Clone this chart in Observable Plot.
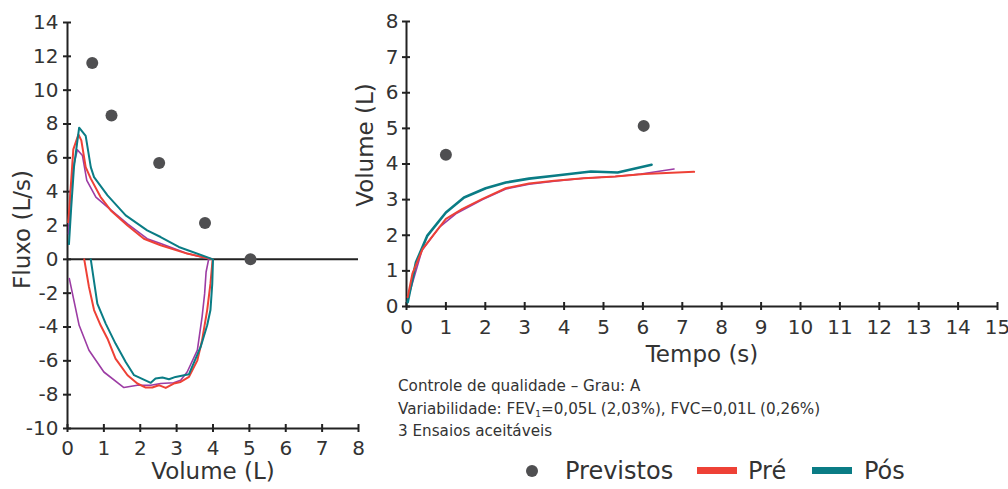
<!DOCTYPE html>
<html>
<head>
<meta charset="utf-8">
<script src="https://cdn.jsdelivr.net/npm/d3@7"></script>
<script src="https://cdn.jsdelivr.net/npm/@observablehq/plot@0.6"></script>
<style>
  body { margin: 0; background: #fff; }
  #wrap { position: relative; width: 1008px; height: 489px; overflow: hidden; font-family: "DejaVu Sans", sans-serif; color: #333; }
  #left { position: absolute; left: 0; top: 0; }
  #right { position: absolute; left: 340px; top: 0; }
  #notes { position: absolute; left: 398px; top: 375px; font-size: 15.2px; line-height: 22.5px; color: #333; white-space: nowrap; }
  #notes sub { font-size: 9px; vertical-align: -3px; line-height: 0; }
  .lg { position: absolute; }
  .lgtext { font-size: 24px; line-height: 28px; top: 457px; color: #333; }
</style>
</head>
<body>
<div id="wrap">
  <div id="left"></div>
  <div id="right"></div>
  <div id="notes"></div>
  <div id="legend"></div>
</div>
<script>
// ---------- Colors / labels ----------
const seriesNames = ["Previstos", "Pré", "Pós"];
const colPred = "#4f4f51", colPre = "#ee4136", colPos = "#0a7c85", colTrial = "#9c3ca4";

// ---------- Flow-volume (left) ----------
const flowTicks = [-10, -8, -6, -4, -2, 0, 2, 4, 6, 8, 10, 12, 14];
const volTicksL = [0, 1, 2, 3, 4, 5, 6, 7, 8];

const predFvVol  = [0.68, 1.21, 2.52, 3.78, 5.03];
const predFvFlow = [11.6, 8.5, 5.7, 2.15, 0];

// Pré: expiration then inspiration
const preFvVol  = [0.02, 0.04, 0.16, 0.30, 0.38, 0.50, 0.64, 0.91, 1.19, 1.65, 2.10, 2.56, 3.29, 3.99,
                   3.93, 3.84, 3.70, 3.57, 3.34, 3.11, 2.92, 2.70, 2.51, 2.33, 2.15, 1.92, 1.65, 1.32, 1.10, 0.91, 0.73, 0.59, 0.46];
const preFvFlow = [2.2, 2.7, 6.5, 7.38, 7.03, 5.45, 4.77, 3.68, 2.89, 2.0, 1.22, 0.83, 0.34, 0.0,
                   -1.44, -3.0, -4.78, -5.97, -6.95, -7.25, -7.34, -7.6, -7.44, -7.58, -7.58, -7.34, -6.85, -5.87, -4.69, -3.9, -3.0, -1.63, 0];

// Pós
const posFvVol  = [0.04, 0.10, 0.18, 0.32, 0.50, 0.64, 0.73, 1.10, 1.60, 2.19, 2.56, 3.06, 4.00,
                   3.98, 3.93, 3.84, 3.66, 3.34, 2.97, 2.79, 2.61, 2.42, 2.29, 1.83, 1.60, 1.32, 1.05, 0.82, 0.64];
const posFvFlow = [0.9, 3.0, 5.5, 7.78, 7.3, 5.45, 4.86, 3.78, 2.6, 1.71, 1.32, 0.73, 0.0,
                   -1.44, -3.0, -3.9, -5.18, -6.79, -6.95, -7.09, -6.99, -7.05, -7.3, -6.85, -6.07, -4.98, -3.8, -2.62, 0];

// third accepted trial
const trialFvVol  = [0.03, 0.08, 0.18, 0.27, 0.41, 0.53, 0.78, 1.10, 1.65, 2.19, 2.56, 3.29, 3.90,
                     3.88, 3.81, 3.77, 3.70, 3.57, 3.29, 3.11, 2.92, 2.56, 2.29, 1.92, 1.55, 1.00, 0.59, 0.32, 0.05];
const trialFvFlow = [1.5, 4.0, 5.65, 6.48, 6.14, 4.67, 3.68, 3.09, 2.1, 1.22, 0.93, 0.34, 0.02,
                     0, -0.75, -2.03, -3.4, -5.37, -6.66, -7.15, -7.3, -7.34, -7.44, -7.44, -7.58, -6.66, -5.37, -3.9, -1.14];

// ---------- Volume-time (right) ----------
const volTicksR = [0, 1, 2, 3, 4, 5, 6, 7, 8];
const timeTicks = [0, 1, 2, 3, 4, 5, 6, 7, 8, 9, 10, 11, 12, 13, 14, 15];

const predVtTime = [1.0, 6.02];
const predVtVol  = [4.26, 5.07];

const preVtTime = [0.03, 0.15, 0.41, 1.0, 1.42, 1.93, 2.52, 3.11, 3.75, 4.5, 5.3, 6.03, 7.3];
const preVtVol  = [0.26, 0.92, 1.62, 2.46, 2.74, 3.02, 3.32, 3.45, 3.53, 3.6, 3.65, 3.72, 3.78];

const posVtTime = [0.03, 0.24, 0.53, 1.0, 1.46, 2.01, 2.52, 3.11, 3.75, 4.68, 5.36, 6.22];
const posVtVol  = [0.12, 1.24, 1.99, 2.64, 3.06, 3.32, 3.48, 3.59, 3.67, 3.79, 3.76, 3.98];

const trialVtTime = [0.03, 0.39, 0.83, 1.25, 1.93, 2.52, 3.11, 3.75, 4.5, 5.3, 5.95, 6.79];
const trialVtVol  = [0.2, 1.57, 2.22, 2.6, 3.0, 3.3, 3.43, 3.52, 3.6, 3.65, 3.72, 3.86];

// ---------- Texts ----------
const axisTitles = { flow: "Fluxo (L/s)", volL: "Volume (L)", volR: "Volume (L)", time: "Tempo (s)" };
const noteLines = [
  "Controle de qualidade – Grau: A",
  "Variabilidade: FEV<sub>1</sub>=0,05L (2,03%), FVC=0,01L (0,26%)",
  "3 Ensaios aceitáveis"
];

const zip = (xs, ys) => xs.map((x, i) => ({x, y: ys[i]}));
const axisCol = "#222";
const style = {fontFamily: "DejaVu Sans", fontSize: "20px", color: "#333", background: "transparent", overflow: "visible"};
const titleOpts = {text: d => d, fontSize: 23, fill: "#333", textAnchor: "middle", lineAnchor: "middle"};

// ---------- Left plot ----------
const left = Plot.plot({
  width: 370, height: 489,
  marginLeft: 67, marginRight: 12, marginTop: 22, marginBottom: 61,
  x: {domain: [0, 8]},
  y: {domain: [-10, 14]},
  style,
  marks: [
    Plot.ruleY([0], {stroke: axisCol, strokeWidth: 2}),
    Plot.ruleY([-10], {stroke: axisCol, strokeWidth: 2}),
    Plot.ruleX([0], {stroke: axisCol, strokeWidth: 2}),
    Plot.axisY({ticks: flowTicks, tickSize: 4, tickPadding: 5, label: null, tickFormat: d => String(d), stroke: axisCol, strokeWidth: 2}),
    Plot.axisY({ticks: flowTicks, tickSize: 4, dx: 4, label: null, tickFormat: () => "", stroke: axisCol, strokeWidth: 2}),
    Plot.axisX({ticks: volTicksL, tickSize: 4, tickPadding: 8, label: null, tickFormat: d => String(d), stroke: axisCol, strokeWidth: 2}),
    Plot.axisX({ticks: volTicksL, tickSize: 4, dy: -4, label: null, tickFormat: () => "", stroke: axisCol, strokeWidth: 2}),
    Plot.text([axisTitles.volL], {...titleOpts, frameAnchor: "bottom", dy: 43}),
    Plot.text([axisTitles.flow], {...titleOpts, frameAnchor: "left", dx: -45, dy: 4, rotate: -90}),
    Plot.line(zip(trialFvVol, trialFvFlow), {x: "x", y: "y", stroke: colTrial, strokeWidth: 1.6}),
    Plot.line(zip(preFvVol, preFvFlow), {x: "x", y: "y", stroke: colPre, strokeWidth: 2}),
    Plot.line(zip(posFvVol, posFvFlow), {x: "x", y: "y", stroke: colPos, strokeWidth: 2}),
    Plot.dot(zip(predFvVol, predFvFlow), {x: "x", y: "y", r: 6, fill: colPred, stroke: "none"})
  ]
});
document.getElementById("left").append(left);

// ---------- Right plot ----------
const right = Plot.plot({
  width: 668, height: 370,
  marginLeft: 66, marginRight: 11, marginTop: 21, marginBottom: 64,
  x: {domain: [0, 15]},
  y: {domain: [0, 8]},
  style,
  marks: [
    Plot.ruleY([0], {stroke: axisCol, strokeWidth: 2}),
    Plot.ruleX([0], {stroke: axisCol, strokeWidth: 2}),
    Plot.axisY({ticks: volTicksR, tickSize: 4, tickPadding: 4, label: null, tickFormat: d => String(d), stroke: axisCol, strokeWidth: 2}),
    Plot.axisY({ticks: volTicksR, tickSize: 4, dx: 4, label: null, tickFormat: () => "", stroke: axisCol, strokeWidth: 2}),
    Plot.axisX({ticks: timeTicks, tickSize: 4, tickPadding: 9, label: null, tickFormat: d => String(d), stroke: axisCol, strokeWidth: 2}),
    Plot.axisX({ticks: timeTicks, tickSize: 4, dy: -4, label: null, tickFormat: () => "", stroke: axisCol, strokeWidth: 2}),
    Plot.text([axisTitles.time], {...titleOpts, frameAnchor: "bottom", dy: 48}),
    Plot.text([axisTitles.volR], {...titleOpts, frameAnchor: "left", dx: -41, dy: -19, rotate: -90}),
    Plot.line(zip(trialVtTime, trialVtVol), {x: "x", y: "y", stroke: colTrial, strokeWidth: 1.6}),
    Plot.line(zip(posVtTime, posVtVol), {x: "x", y: "y", stroke: colPos, strokeWidth: 2.6}),
    Plot.line(zip(preVtTime, preVtVol), {x: "x", y: "y", stroke: colPre, strokeWidth: 2}),
    Plot.dot(zip(predVtTime, predVtVol), {x: "x", y: "y", r: 6, fill: colPred, stroke: "none"})
  ]
});
document.getElementById("right").append(right);

// ---------- Notes ----------
document.getElementById("notes").innerHTML = noteLines.map(l => `<div>${l}</div>`).join("");

// ---------- Legend ----------
const lg = document.getElementById("legend");
lg.innerHTML = `
  <div class="lg" style="left:526px;top:465px;width:12px;height:12px;border-radius:50%;background:${colPred}"></div>
  <div class="lg lgtext" style="left:565px">${seriesNames[0]}</div>
  <div class="lg" style="left:697px;top:467px;width:40px;height:7px;background:${colPre}"></div>
  <div class="lg lgtext" style="left:748px">${seriesNames[1]}</div>
  <div class="lg" style="left:812px;top:467px;width:40px;height:7px;background:${colPos}"></div>
  <div class="lg lgtext" style="left:864px">${seriesNames[2]}</div>
`;
</script>
</body>
</html>
